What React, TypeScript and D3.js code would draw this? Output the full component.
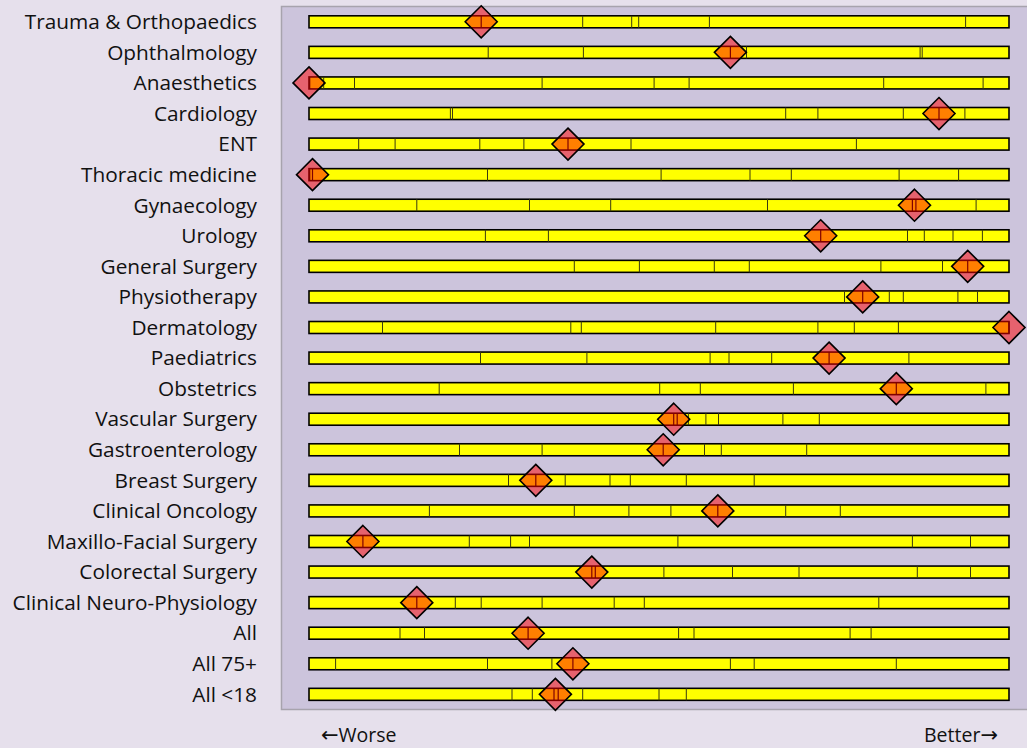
import React from "react";
import * as d3 from "d3";

const categories: string[] = [
  "Trauma & Orthopaedics",
  "Ophthalmology",
  "Anaesthetics",
  "Cardiology",
  "ENT",
  "Thoracic medicine",
  "Gynaecology",
  "Urology",
  "General Surgery",
  "Physiotherapy",
  "Dermatology",
  "Paediatrics",
  "Obstetrics",
  "Vascular Surgery",
  "Gastroenterology",
  "Breast Surgery",
  "Clinical Oncology",
  "Maxillo-Facial Surgery",
  "Colorectal Surgery",
  "Clinical Neuro-Physiology",
  "All",
  "All 75+",
  "All <18",
];

// segment boundaries inside each bar (0 = worse, 100 = better)
const segmentBreaks: number[][] = [
  [39.1, 46.1, 47.1, 57.2, 93.8],
  [25.6, 39.2, 62.5, 87.3, 87.6],
  [2.1, 6.5, 33.3, 49.3, 54.3, 82.1, 96.3],
  [20.2, 20.5, 68.1, 72.7, 84.9, 93.7],
  [7.1, 12.3, 24.4, 30.7, 46.0, 78.2],
  [25.5, 50.3, 63.0, 68.9, 84.3, 92.8],
  [15.4, 31.5, 43.1, 65.5, 95.3],
  [25.2, 34.2, 85.5, 87.9, 92.0, 96.2],
  [37.9, 47.2, 57.9, 62.9, 81.7, 90.5],
  [76.5, 82.9, 84.9, 92.7, 95.5],
  [10.5, 37.4, 38.9, 58.1, 72.7, 77.9, 84.2],
  [24.5, 39.7, 57.3, 60.0, 66.1, 85.7],
  [18.6, 50.1, 55.9, 69.2, 96.7],
  [54.2, 56.7, 58.5, 67.7, 72.9],
  [21.5, 33.3, 56.5, 58.9, 71.1],
  [28.5, 36.6, 43.0, 45.9, 53.9, 63.6],
  [17.2, 37.9, 45.7, 51.7, 68.1, 75.9],
  [22.9, 28.8, 31.5, 52.7, 86.2, 94.5],
  [50.7, 60.5, 70.0, 86.9, 94.5],
  [20.9, 24.6, 33.3, 43.6, 47.9, 81.4],
  [13.0, 16.5, 52.8, 55.0, 77.3, 80.3],
  [3.8, 25.5, 34.7, 60.2, 63.6, 83.9],
  [29.0, 31.9, 39.1, 50.0, 53.9],
];

// diamond marker position
const markerValues: number[] = [
  24.6, 60.2, 0.0, 90.0, 37.0, 0.5, 86.5, 73.1, 94.1, 79.1, 100.0, 74.3,
  83.9, 52.1, 50.6, 32.4, 58.4, 7.7, 40.4, 15.4, 31.3, 37.7, 35.2,
];

// interval lines drawn under the marker (lower / upper)
const intervalLow: number[] = [
  24.6, 60.2, 0.1, 90.0, 37.0, 0.1, 86.2, 73.1, 94.1, 79.1, 100.0, 74.3,
  83.9, 52.1, 50.6, 32.4, 58.4, 7.7, 40.4, 15.4, 31.3, 37.7, 35.0,
];
const intervalHigh: number[] = [
  24.6, 60.2, 0.1, 90.0, 37.0, 0.5, 86.7, 73.1, 94.1, 79.1, 100.0, 74.3,
  83.9, 52.6, 50.6, 32.4, 58.4, 7.7, 40.9, 15.4, 31.3, 37.7, 35.6,
];

const axisWords: string[] = ["Worse", "Better"];
const axisArrows: string[] = ["\u2190", "\u2192"];

const W = 1027;
const H = 748;

export default function App() {
  const x = d3.scaleLinear().domain([0, 100]).range([309, 1009]);
  const y = d3
    .scalePoint<string>()
    .domain(categories)
    .range([21.8, 21.8 + 22 * 30.57]);
  const barH = 12;
  const dHalf = 16;
  const font = "'Open Sans', 'Noto Sans', sans-serif";
  const fs = 20.8;
  const arrowFont = "'DejaVu Sans', sans-serif";

  return (
    <svg
      width={W}
      height={H}
      style={{ position: "absolute", left: 0, top: 0, display: "block" }}
    >
      <rect x={0} y={0} width={W} height={H} fill="#e6e0ec" />
      <rect
        x={281.5}
        y={6.5}
        width={800}
        height={703}
        fill="#ccc4dc"
        stroke="#a7a3ad"
        strokeWidth={1.5}
      />
      {categories.map((c, i) => {
        const cy = y(c) as number;
        const top = cy - barH / 2;
        const mx = x(markerValues[i]);
        const lo = x(intervalLow[i]);
        const hi = x(intervalHigh[i]);
        const diamond = d3.path();
        diamond.moveTo(mx, cy - dHalf);
        diamond.lineTo(mx + dHalf, cy);
        diamond.lineTo(mx, cy + dHalf);
        diamond.lineTo(mx - dHalf, cy);
        diamond.closePath();
        return (
          <g key={c}>
            <text
              x={257}
              y={cy}
              dy="0.35em"
              textAnchor="end"
              fontFamily={font}
              fontSize={fs}
              fill="#111"
            >
              {c}
            </text>
            <rect
              x={x(0)}
              y={top}
              width={x(100) - x(0)}
              height={barH}
              fill="#ffff00"
              stroke="#000"
              strokeWidth={1.6}
            />
            {segmentBreaks[i].map((b, j) => (
              <line
                key={j}
                x1={x(b)}
                x2={x(b)}
                y1={top}
                y2={top + barH}
                stroke="#3a3a10"
                strokeWidth={1}
              />
            ))}
            <line x1={lo} x2={lo} y1={top} y2={top + barH} stroke="#000" strokeWidth={1.2} />
            {hi !== lo && (
              <line x1={hi} x2={hi} y1={top} y2={top + barH} stroke="#000" strokeWidth={1.2} />
            )}
            <path
              d={diamond.toString()}
              fill="rgba(255,0,0,0.5)"
              stroke="#000"
              strokeWidth={1.6}
              strokeLinejoin="miter"
            />
          </g>
        );
      })}
      <text
        x={321}
        y={735}
        dy="0.35em"
        textAnchor="start"
        fontFamily={font}
        fontSize={19.5}
        fill="#111"
      >
        <tspan fontFamily={arrowFont} fontSize={21}>
          {axisArrows[0]}
        </tspan>
        {axisWords[0]}
      </text>
      <text
        x={998}
        y={735}
        dy="0.35em"
        textAnchor="end"
        fontFamily={font}
        fontSize={19.5}
        fill="#111"
      >
        {axisWords[1]}
        <tspan fontFamily={arrowFont} fontSize={21}>
          {axisArrows[1]}
        </tspan>
      </text>
    </svg>
  );
}
